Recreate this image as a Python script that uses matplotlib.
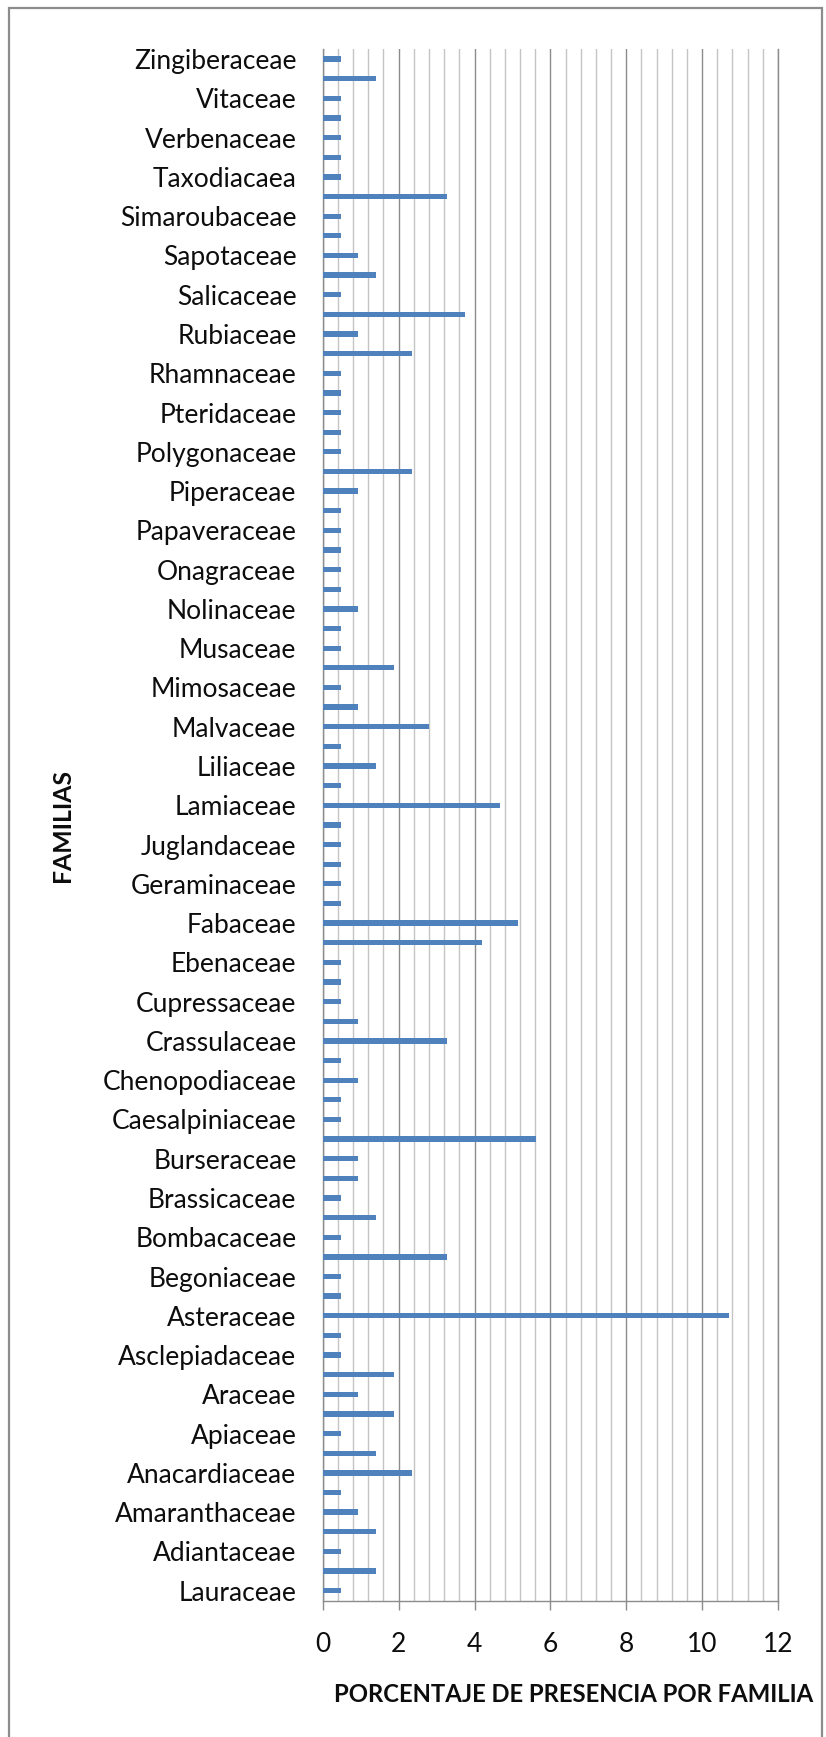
import numpy as np
import matplotlib
matplotlib.use("Agg")
import matplotlib.pyplot as plt
from matplotlib.patches import Rectangle
from matplotlib.ticker import MultipleLocator

# families shown on the axis (every other bar), top to bottom
families = ["Zingiberaceae", "Vitaceae", "Verbenaceae", "Taxodiacaea", "Simaroubaceae",
            "Sapotaceae", "Salicaceae", "Rubiaceae", "Rhamnaceae", "Pteridaceae",
            "Polygonaceae", "Piperaceae", "Papaveraceae", "Onagraceae", "Nolinaceae",
            "Musaceae", "Mimosaceae", "Malvaceae", "Liliaceae", "Lamiaceae",
            "Juglandaceae", "Geraminaceae", "Fabaceae", "Ebenaceae", "Cupressaceae",
            "Crassulaceae", "Chenopodiaceae", "Caesalpiniaceae", "Burseraceae", "Brassicaceae",
            "Bombacaceae", "Begoniaceae", "Asteraceae", "Asclepiadaceae", "Araceae",
            "Apiaceae", "Anacardiaceae", "Amaranthaceae", "Adiantaceae", "Lauraceae"]

# percentage per family, top to bottom (all 79 bars)
porcentaje = [0.47, 1.40, 0.47, 0.47, 0.47, 0.47, 0.47, 3.27, 0.47, 0.47,
              0.93, 1.40, 0.47, 3.74, 0.93, 2.34, 0.47, 0.47, 0.47, 0.47,
              0.47, 2.34, 0.93, 0.47, 0.47, 0.47, 0.47, 0.47, 0.93, 0.47,
              0.47, 1.87, 0.47, 0.93, 2.80, 0.47, 1.40, 0.47, 4.67, 0.47,
              0.47, 0.47, 0.47, 0.47, 5.14, 4.21, 0.47, 0.47, 0.47, 0.93,
              3.27, 0.47, 0.93, 0.47, 0.47, 5.61, 0.93, 0.93, 0.47, 1.40,
              0.47, 3.27, 0.47, 0.47, 10.70, 0.47, 0.47, 1.87, 0.93, 1.87,
              0.47, 1.40, 2.34, 0.47, 0.93, 1.40, 0.47, 1.40, 0.47]

x_ticks = [0, 2, 4, 6, 8, 10, 12]

plt.rcParams['font.family'] = ['Lato', 'DejaVu Sans']

W, H = 826, 1737
fig = plt.figure(figsize=(W / 100, H / 100), dpi=100)

x0, x1 = 322.8, 778.0
y_top, y_bot = 49.3, 1600.5
ax = fig.add_axes([x0 / W, 1 - y_bot / H, (x1 - x0) / W, (y_bot - y_top) / H])

n = len(porcentaje)
pos = np.arange(n)
ax.barh(pos, porcentaje, height=0.27, color='#4F81BD', zorder=3)

ax.set_xlim(0, 12)
ax.set_ylim(n - 0.5, -0.5)

ax.set_xticks(x_ticks)
ax.set_xticklabels([str(t) for t in x_ticks])
ax.xaxis.set_minor_locator(MultipleLocator(0.4))
ax.set_yticks(pos[::2])
ax.set_yticklabels(families)

ax.grid(True, which='major', axis='x', color='#8C8C8C', linewidth=1.0, zorder=1)
ax.grid(True, which='minor', axis='x', color='#C4C4C4', linewidth=1.0, zorder=1)
ax.set_axisbelow(True)

ax.spines['top'].set_visible(False)
for side in ['left', 'bottom', 'right']:
    ax.spines[side].set_color('#8C8C8C')
    ax.spines[side].set_linewidth(1.0)

ax.tick_params(axis='y', length=0, pad=19, labelsize=19, labelcolor='#0D0D0D')
ax.tick_params(axis='x', which='major', length=6.5, width=1.0, color='#8C8C8C',
               pad=16, labelsize=19, labelcolor='#0D0D0D')
ax.tick_params(axis='x', which='minor', length=0)

fig.text(334 / W, 1 - 1695 / H, "PORCENTAJE DE PRESENCIA POR FAMILIA",
         ha='left', va='center', fontsize=17.2, fontweight='bold', color='#0D0D0D')
fig.text(63 / W, 1 - 825 / H, "FAMILIAS", ha='center', va='center', rotation=90,
         fontsize=17.8, fontweight='bold', color='#0D0D0D')

# chart area border
fig.patches.append(Rectangle((9 / W, -0.01), (822 - 9) / W, 1.01 - 8 / H,
                             transform=fig.transFigure, fill=False,
                             edgecolor='#8C8C8C', linewidth=1.6))

fig.savefig("out.png", dpi=100)
